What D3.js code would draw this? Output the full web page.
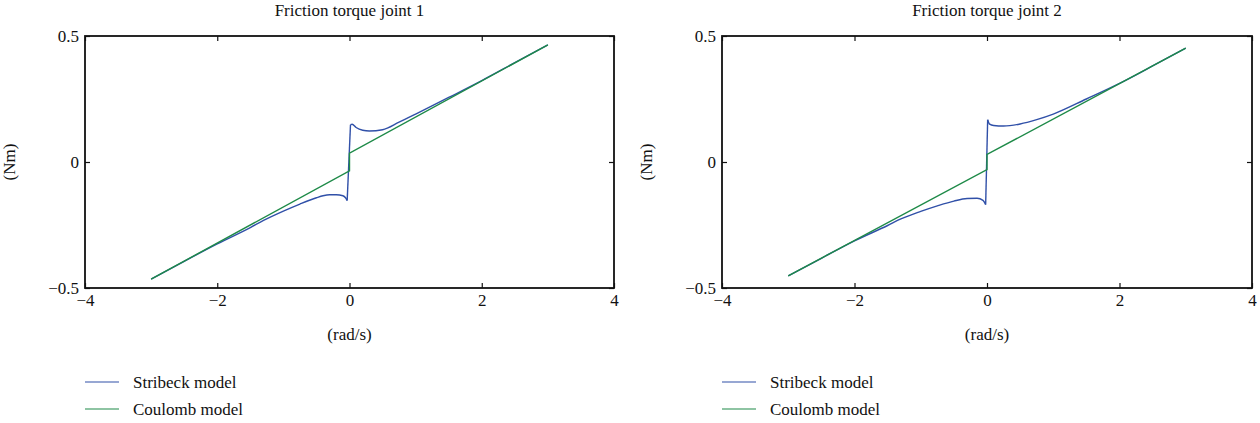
<!DOCTYPE html>
<html lang="en">
<head>
  <meta charset="UTF-8">
  <title>Friction torque</title>
  <script src="https://d3js.org/d3.v7.min.js"></script>
  <style>
    body { margin: 0; background: #fff; }
  </style>
</head>
<body>
  <div id="chart"></div>
  <script>
    // values (velocity rad/s, torque Nm)
    const titles = ["Friction torque joint 1", "Friction torque joint 2"];
    const xTicks = [-4, -2, 0, 2, 4];
    const yTicks = [-0.5, 0, 0.5];
    const seriesNames = ["Stribeck model", "Coulomb model"];

    const stribeck1 = [
      [-3.0, -0.465], [-2.5, -0.394], [-2.0, -0.325], [-1.5, -0.26], [-1.3, -0.232],
      [-1.0, -0.195], [-0.75, -0.167], [-0.5, -0.142], [-0.4, -0.134], [-0.3, -0.13],
      [-0.2, -0.13], [-0.1, -0.134], [-0.06, -0.142], [-0.035, -0.153],
      [0.015, 0.148], [0.04, 0.15], [0.1, 0.137], [0.2, 0.126], [0.3, 0.123],
      [0.5, 0.128], [0.75, 0.158], [1.0, 0.19], [1.5, 0.256], [2.0, 0.323],
      [2.5, 0.394], [3.0, 0.465]
    ];
    const coulomb1 = [[-3.0, -0.465], [0, -0.035], [0, 0.035], [3.0, 0.465]];

    const stribeck2 = [
      [-3.0, -0.452], [-2.5, -0.382], [-2.0, -0.313], [-1.5, -0.252], [-1.3, -0.226],
      [-1.0, -0.196], [-0.75, -0.174], [-0.5, -0.155], [-0.3, -0.145], [-0.15, -0.144],
      [-0.06, -0.152], [-0.02, -0.169],
      [0.01, 0.168], [0.04, 0.15], [0.1, 0.145], [0.25, 0.143], [0.5, 0.151],
      [0.75, 0.168], [1.0, 0.19], [1.5, 0.25], [2.0, 0.312], [2.5, 0.381], [3.0, 0.452]
    ];
    const coulomb2 = [[-3.0, -0.452], [0, -0.03], [0, 0.03], [3.0, 0.452]];

    const colors = ["#3050a8", "#1e8a48"];
    const serif = "'Liberation Serif', 'DejaVu Serif', 'Times New Roman', serif";

    const svg = d3.select("#chart").append("svg")
      .attr("width", 1260)
      .attr("height", 423);

    const panels = [
      { left: 85, right: 614, title: titles[0], stribeck: stribeck1, coulomb: coulomb1 },
      { left: 722, right: 1252, title: titles[1], stribeck: stribeck2, coulomb: coulomb2 }
    ];
    const plotTop = 36, plotBottom = 288;

    panels.forEach(p => {
      const x = d3.scaleLinear().domain([-4, 4]).range([p.left, p.right]);
      const y = d3.scaleLinear().domain([-0.5, 0.5]).range([plotBottom, plotTop]);
      const g = svg.append("g");

      const line = d3.line().x(d => x(d[0])).y(d => y(d[1]));
      const neg = p.stribeck.filter(d => d[0] < 0);
      const pos = p.stribeck.filter(d => d[0] > 0);

      // curves
      [neg, pos].forEach(branch => {
        g.append("path")
          .datum(branch)
          .attr("fill", "none").attr("stroke", colors[0]).attr("stroke-width", 1.4)
          .attr("d", line.curve(d3.curveMonotoneX));
      });
      g.append("path")
        .datum([neg[neg.length - 1], pos[0]])
        .attr("fill", "none").attr("stroke", colors[0]).attr("stroke-width", 1.4)
        .attr("d", line.curve(d3.curveLinear));
      g.append("path")
        .datum(p.coulomb)
        .attr("fill", "none").attr("stroke", colors[1]).attr("stroke-width", 1.4)
        .attr("d", line.curve(d3.curveLinear));

      // axes with inward ticks
      const fmt = d => d < 0 ? "\u2212" + Math.abs(d) : d;
      g.append("g").attr("transform", `translate(0,${plotBottom})`)
        .call(d3.axisBottom(x).tickValues(xTicks).tickSizeInner(-5).tickSizeOuter(0)
          .tickFormat(fmt).tickPadding(6));
      g.append("g").attr("transform", `translate(0,${plotTop})`)
        .call(d3.axisTop(x).tickValues(xTicks).tickSizeInner(-5).tickSizeOuter(0).tickFormat(""));
      g.append("g").attr("transform", `translate(${p.left},0)`)
        .call(d3.axisLeft(y).tickValues(yTicks).tickSizeInner(-5).tickSizeOuter(0)
          .tickFormat(fmt).tickPadding(6));
      g.append("g").attr("transform", `translate(${p.right},0)`)
        .call(d3.axisRight(y).tickValues(yTicks).tickSizeInner(-5).tickSizeOuter(0).tickFormat(""));

      g.selectAll(".domain").remove();
      g.selectAll(".tick line").attr("stroke", "#111").attr("stroke-width", 1.2);
      g.selectAll(".tick text").attr("fill", "#111");

      g.append("rect")
        .attr("x", p.left).attr("y", plotTop)
        .attr("width", p.right - p.left).attr("height", plotBottom - plotTop)
        .attr("fill", "none").attr("stroke", "#111").attr("stroke-width", 1.8);

      const cx = (p.left + p.right) / 2;
      g.append("text").attr("x", cx).attr("y", 16)
        .attr("text-anchor", "middle").text(p.title);
      g.append("text").attr("x", cx).attr("y", 340)
        .attr("text-anchor", "middle").text("(rad/s)");
      g.append("text")
        .attr("transform", `translate(${p.left - 70},${(plotTop + plotBottom) / 2}) rotate(-90)`)
        .attr("text-anchor", "middle").text("(Nm)");

      // legend
      seriesNames.forEach((name, i) => {
        const ly = 382 + i * 27;
        g.append("line")
          .attr("x1", p.left).attr("x2", p.left + 34)
          .attr("y1", ly).attr("y2", ly)
          .attr("stroke", colors[i]).attr("stroke-width", 1.2);
        g.append("text").attr("x", p.left + 48).attr("y", ly + 6)
          .text(name);
      });
    });

    svg.selectAll("text")
      .style("font-family", serif)
      .style("font-size", "17px")
      .style("fill", "#111");
  </script>
</body>
</html>
